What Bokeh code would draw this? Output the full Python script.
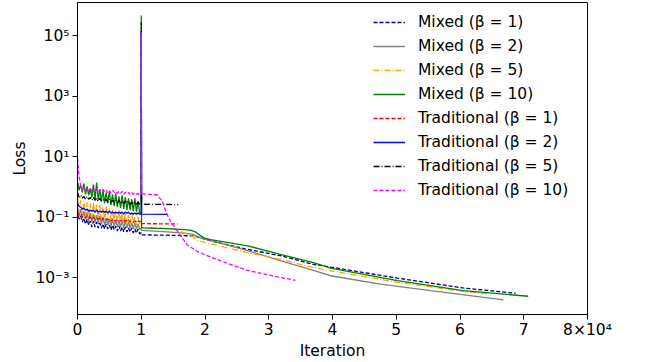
from bokeh.plotting import figure
from bokeh.models import Range1d, FixedTicker, Legend, LegendItem
from bokeh.embed import file_html
from bokeh.resources import INLINE

FONT = "DejaVu Sans"
FS = "15.5px"

# ---------------- data ----------------
X_PRE = list(range(0, 10001, 250))
SPIKE_X = 10000

mixed1_pre = [0.173, 0.0880, 0.110, 0.0702, 0.0948, 0.0604, 0.0880, 0.0560, 0.0757, 0.0482, 0.0757,
              0.0482, 0.0702, 0.0447, 0.0651, 0.0447, 0.0604, 0.0415, 0.0604, 0.0415, 0.0560,
              0.0385, 0.0560, 0.0385, 0.0520, 0.0356, 0.0520, 0.0356, 0.0482, 0.0331, 0.0482,
              0.0331, 0.0447, 0.0331, 0.0447, 0.0307, 0.0415, 0.0307, 0.0415, 0.0285, 0.0307]
mixed1_post_x = [10050, 14000, 18200, 20900, 26700, 31800, 37000, 39700, 50200, 60500, 68700]
mixed1_post_y = [0.0264, 0.0258, 0.0245, 0.0168, 0.00873, 0.00543, 0.00282, 0.00228, 0.000984, 0.000465, 0.000311]

mixed2_pre = [0.234, 0.110, 0.187, 0.0948, 0.161, 0.0880, 0.149, 0.0757, 0.138, 0.0702, 0.128,
              0.0651, 0.119, 0.0604, 0.110, 0.0604, 0.102, 0.0560, 0.0948, 0.0560, 0.0880,
              0.0520, 0.0880, 0.0520, 0.0816, 0.0482, 0.0816, 0.0482, 0.0757, 0.0447, 0.0757,
              0.0447, 0.0702, 0.0447, 0.0651, 0.0415, 0.0651, 0.0415, 0.0604, 0.0415, 0.0447]
mixed2_post_x = [10050, 14000, 16200, 18000, 19300, 26700, 31800, 37000, 39700, 47500, 55400, 66800]
mixed2_post_y = [0.0370, 0.0330, 0.0307, 0.0280, 0.0211, 0.00793, 0.00373, 0.00176, 0.00118, 0.000627, 0.000382, 0.000188]

mixed5_pre = [0.428, 0.149, 0.367, 0.128, 0.341, 0.110, 0.316, 0.102, 0.293, 0.0948, 0.316,
              0.0948, 0.272, 0.0880, 0.252, 0.0880, 0.217, 0.0816, 0.234, 0.0816, 0.201,
              0.0757, 0.187, 0.0757, 0.161, 0.0702, 0.173, 0.0702, 0.149, 0.0651, 0.138,
              0.0651, 0.119, 0.0604, 0.128, 0.0604, 0.110, 0.0560, 0.102, 0.0560, 0.0604]
mixed5_post_x = [10050, 15000, 16200, 17700, 18800, 26700, 31800, 37000, 39700, 50200, 60500, 64300]
mixed5_post_y = [0.0470, 0.0420, 0.0331, 0.0270, 0.0172, 0.00681, 0.00411, 0.00220, 0.00172, 0.000713, 0.000362, 0.000296]

mixed10_pre = [1.53, 0.78, 1.22, 0.671, 1.32, 0.577, 1.05, 0.536, 0.908, 0.460, 1.22,
               0.396, 1.42, 0.367, 0.841, 0.341, 0.78, 0.293, 0.671, 0.293, 0.723,
               0.252, 0.577, 0.234, 0.622, 0.217, 0.497, 0.201, 0.536, 0.187, 0.460,
               0.173, 0.428, 0.173, 0.396, 0.161, 0.428, 0.149, 0.341, 0.138, 0.138]
mixed10_spike = 4.7e5
mixed10_post_x = [10050, 15000, 17700, 18500, 19800, 20900, 26700, 31800, 37000, 39700, 50200, 60500, 70700]
mixed10_post_y = [0.0447, 0.0415, 0.0380, 0.0330, 0.0210, 0.0185, 0.0115, 0.0060, 0.00321, 0.00209, 0.000809, 0.000382, 0.000248]

trad1_pre = [0.149, 0.110, 0.119, 0.102, 0.110, 0.0948, 0.110, 0.0948, 0.102, 0.0880, 0.102,
             0.0880, 0.0948, 0.0880, 0.0948, 0.0816, 0.0948, 0.0816, 0.0880, 0.0816, 0.0880,
             0.0757, 0.0880, 0.0757, 0.0816, 0.0757, 0.0816, 0.0757, 0.0816, 0.0702, 0.0816,
             0.0757, 0.0816, 0.0702, 0.0757, 0.0702, 0.0757, 0.0702, 0.0757, 0.0702, 0.0757]
trad1_post_x = [10050, 15700]
trad1_post_y = [0.062, 0.061]

trad2_pre = [0.293, 0.234, 0.217, 0.187, 0.201, 0.173, 0.187, 0.161, 0.173, 0.161, 0.173,
             0.149, 0.173, 0.149, 0.161, 0.149, 0.161, 0.149, 0.161, 0.138, 0.161,
             0.138, 0.149, 0.138, 0.149, 0.138, 0.149, 0.138, 0.149, 0.128, 0.149,
             0.138, 0.149, 0.128, 0.138, 0.128, 0.138, 0.128, 0.138, 0.128, 0.128]
trad2_spike = 1.4e5
trad2_post_x = [10050, 14100]
trad2_post_y = [0.128, 0.126]

trad5_pre = [0.671, 0.460, 0.536, 0.428, 0.497, 0.396, 0.497, 0.396, 0.460, 0.367, 0.460,
             0.367, 0.428, 0.341, 0.428, 0.341, 0.396, 0.341, 0.396, 0.316, 0.396,
             0.316, 0.367, 0.316, 0.367, 0.293, 0.367, 0.293, 0.341, 0.293, 0.341,
             0.293, 0.341, 0.272, 0.316, 0.272, 0.316, 0.272, 0.316, 0.272, 0.272]
trad5_spike = 2.8e5
trad5_post_x = [10050, 15800]
trad5_post_y = [0.272, 0.265]

trad10_pre = [8.7, 2.24, 1.05, 0.78, 0.977, 0.78, 0.908, 0.723, 0.908, 0.723, 0.841,
              0.723, 0.908, 0.671, 0.841, 0.723, 0.841, 0.671, 0.78, 0.671, 0.78,
              0.622, 0.78, 0.671, 0.723, 0.622, 0.723, 0.622, 0.723, 0.577, 0.671,
              0.622, 0.671, 0.577, 0.671, 0.577, 0.622, 0.577, 0.622, 0.536, 0.622]
trad10_spike = 1.3e5
trad10_post_x = [10050, 11000, 12000, 12500, 13300, 14100, 14600, 15400, 16200, 17200, 18800, 21300, 26700, 31800, 34200]
trad10_post_y = [0.60, 0.58, 0.57, 0.55, 0.341, 0.119, 0.0757, 0.0415, 0.0245, 0.0125, 0.0075, 0.0045, 0.00176, 0.00104, 0.00083]

labels = ["Mixed (β = 1)", "Mixed (β = 2)", "Mixed (β = 5)", "Mixed (β = 10)",
          "Traditional (β = 1)", "Traditional (β = 2)", "Traditional (β = 5)", "Traditional (β = 10)"]
x_ticks = [0, 10000, 20000, 30000, 40000, 50000, 60000, 70000, 80000]
x_tick_labels = ["0", "1", "2", "3", "4", "5", "6", "7", "8×10⁴"]
y_ticks = [1e-3, 1e-1, 1e1, 1e3, 1e5]
y_tick_labels = ["10⁻³", "10⁻¹", "10¹", "10³", "10⁵"]


def series(pre, post_x, post_y, spike=None):
    xs = list(X_PRE)
    ys = list(pre)
    if spike is not None:
        xs.append(SPIKE_X)
        ys.append(spike)
    return xs + list(post_x), ys + list(post_y)


data = [
    series(mixed1_pre, mixed1_post_x, mixed1_post_y),
    series(mixed2_pre, mixed2_post_x, mixed2_post_y),
    series(mixed5_pre, mixed5_post_x, mixed5_post_y),
    series(mixed10_pre, mixed10_post_x, mixed10_post_y, mixed10_spike),
    series(trad1_pre, trad1_post_x, trad1_post_y),
    series(trad2_pre, trad2_post_x, trad2_post_y, trad2_spike),
    series(trad5_pre, trad5_post_x, trad5_post_y, trad5_spike),
    series(trad10_pre, trad10_post_x, trad10_post_y, trad10_spike),
]
styles = [
    ("#000080", "4 2"),
    ("#808080", "solid"),
    ("#FFA500", "6 2 1 2"),
    ("#008000", "solid"),
    ("#FF0000", "4 2"),
    ("#0000FF", "solid"),
    ("#000000", "6 2 1 2"),
    ("#FF00FF", "4 2"),
]

# ---------------- figure ----------------
p = figure(width=652, height=362, y_axis_type="log",
           x_range=Range1d(0, 80000), y_range=Range1d(10 ** -4.209, 10 ** 6.101),
           output_backend="svg", toolbar_location=None,
           min_border_left=77, min_border_right=65, min_border_top=2, min_border_bottom=45)
p.grid.visible = False
p.outline_line_color = "black"
p.outline_line_width = 1
p.background_fill_color = "white"
p.border_fill_color = "white"

items = []
for (xs, ys), (col, dash), lab in zip(data, styles, labels):
    r = p.line(xs, ys, line_color=col, line_dash=dash, line_width=1.3)
    items.append(LegendItem(label=lab, renderers=[r]))

legend = Legend(items=items, location=(296, 114), orientation="vertical",
                border_line_color=None, background_fill_alpha=0,
                glyph_width=32, glyph_height=20, label_height=20, spacing=4,
                label_standoff=13, padding=0, margin=0,
                label_text_font=FONT, label_text_font_size=FS, label_text_color="black")
p.add_layout(legend, "center")

for ax in (p.xaxis[0], p.yaxis[0]):
    ax.axis_line_color = "black"
    ax.major_tick_line_color = "black"
    ax.major_tick_out = 5
    ax.major_tick_in = 0
    ax.minor_tick_out = 0
    ax.minor_tick_in = 0
    ax.major_label_text_font = FONT
    ax.major_label_text_font_size = FS
    ax.major_label_text_color = "black"
    ax.axis_label_text_font = FONT
    ax.axis_label_text_font_size = FS
    ax.axis_label_text_font_style = "normal"
    ax.axis_label_text_color = "black"

p.xaxis[0].ticker = FixedTicker(ticks=x_ticks, minor_ticks=[])
p.xaxis[0].major_label_overrides = dict(zip(x_ticks, x_tick_labels))
p.xaxis[0].axis_label = "Iteration"
p.xaxis[0].major_label_standoff = 1
p.xaxis[0].axis_label_standoff = 0

p.yaxis[0].ticker = FixedTicker(ticks=y_ticks, minor_ticks=[])
p.yaxis[0].major_label_overrides = dict(zip(y_ticks, y_tick_labels))
p.yaxis[0].axis_label = "Loss"
p.yaxis[0].major_label_standoff = 3
p.yaxis[0].axis_label_standoff = 3

open("out.html", "w").write(file_html(p, INLINE))
